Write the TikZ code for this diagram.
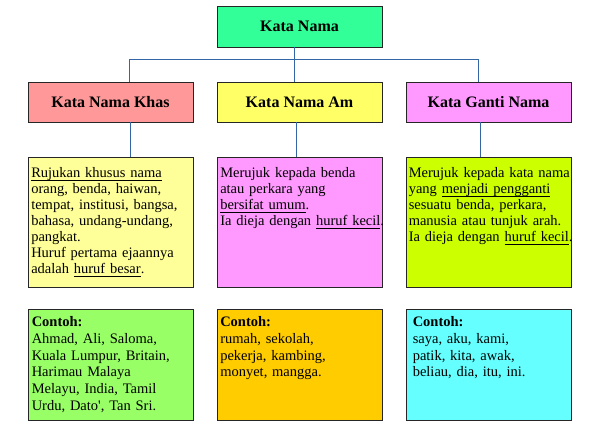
\documentclass[tikz,border=0pt]{standalone}
\usepackage{fontspec}
\setmainfont{Liberation Serif}[Ligatures=TeXOff]
\usetikzlibrary{calc}
\newsavebox\myulbox
\newcommand{\myul}[1]{\leavevmode\sbox\myulbox{#1}\rlap{\rule[-2.8pt]{\wd\myulbox}{0.8pt}}\usebox\myulbox}
\definecolor{cTop}{HTML}{33FF99}
\definecolor{cHa}{HTML}{FF9999}
\definecolor{cHb}{HTML}{FFFF66}
\definecolor{cHc}{HTML}{FF99FF}
\definecolor{cDa}{HTML}{FFFF99}
\definecolor{cDb}{HTML}{FF99FF}
\definecolor{cDc}{HTML}{CCFF00}
\definecolor{cCa}{HTML}{99FF66}
\definecolor{cCb}{HTML}{FFCC00}
\definecolor{cCc}{HTML}{66FFFF}
\definecolor{cLine}{HTML}{3465A4}
\tikzset{
  bx/.style={draw=black!85, line width=0.9pt, inner sep=0pt, minimum width=165pt},
  ttl/.style={bx, minimum height=40pt, font={\fontsize{16}{18}\selectfont\bfseries}},
  dsc/.style={bx, minimum height=130pt},
  exm/.style={bx, minimum height=111pt},
  txtA/.style={anchor=base west, inner sep=0pt, text width=200pt, align=left,
    font={\fontsize{14.5}{16}\selectfont}},
  txtB/.style={anchor=base west, inner sep=0pt, text width=200pt, align=left,
    font={\fontsize{14.5}{16.8}\selectfont}},
  conn/.style={draw=cLine, line width=1pt}
}
\begin{document}
\begin{tikzpicture}[x=1pt,y=-1pt]
\useasboundingbox[fill=white] (0,0) rectangle (589,434);
% boxes
\node[ttl, fill=cTop, minimum height=41pt] (kn) at (299.5,26.5) {Kata Nama};
\node[ttl, fill=cHa] (h1) at (110.5,102) {Kata Nama Khas};
\node[ttl, fill=cHb] (h2) at (299.5,102) {Kata Nama Am};
\node[ttl, fill=cHc] (h3) at (488.5,102) {Kata Ganti Nama};
\node[dsc, fill=cDa] (d1) at (110.5,222) {};
\node[dsc, fill=cDb] (d2) at (299.5,222) {};
\node[dsc, fill=cDc] (d3) at (488.5,222) {};
\node[exm, fill=cCa] (c1) at (110.5,364.5) {};
\node[exm, fill=cCb] (c2) at (299.5,364.5) {};
\node[exm, fill=cCc] (c3) at (488.5,364.5) {};
% connectors
\draw[conn] ([xshift=-5.5pt]kn.south) -- ([xshift=-5.5pt]h2.north);
\draw[conn] ([xshift=18.5pt]h1.north) -- ++(0,-22) -| ([xshift=-10.5pt]h3.north);
\draw[conn] ([xshift=19.5pt]h1.south) -- ([xshift=19.5pt]d1.north);
\draw[conn] ([xshift=-3.5pt]h2.south) -- ([xshift=-3.5pt]d2.north);
\draw[conn] ([xshift=-8.5pt]h3.south) -- ([xshift=-8.5pt]d3.north);
% texts
\node[txtA] (d1t) at ($(d1.north west)+(3.5,21)$) {\myul{Rujukan khusus nama}\\
orang, benda, haiwan,\\
tempat, institusi, bangsa,\\
bahasa, undang-undang,\\
pangkat.\\
Huruf pertama ejaannya\\
adalah \myul{huruf besar}.};
\node[txtA] (d2t) at ($(d2.north west)+(3.5,21)$) {Merujuk kepada benda\\
atau perkara yang\\
\myul{bersifat umum}.\\
Ia dieja dengan \myul{huruf kecil}.};
\node[txtA] (d3t) at ($(d3.north west)+(3,21)$) {Merujuk kepada kata nama\\
yang \myul{menjadi pengganti}\\
sesuatu benda, perkara,\\
manusia atau tunjuk arah.\\
Ia dieja dengan \myul{huruf kecil}.};
\node[txtB] (c1t) at ($(c1.north west)+(4,18)$) {\textbf{Contoh:}\\
Ahmad, Ali, Saloma,\\
Kuala Lumpur, Britain,\\
Harimau Malaya\\
Melayu, India, Tamil\\
Urdu, Dato', Tan Sri.};
\node[txtB] (c2t) at ($(c2.north west)+(3.5,18)$) {\textbf{Contoh:}\\
rumah, sekolah,\\
pekerja, kambing,\\
monyet, mangga.};
\node[txtB] (c3t) at ($(c3.north west)+(7,18)$) {\textbf{Contoh:}\\
saya, aku, kami,\\
patik, kita, awak,\\
beliau, dia, itu, ini.};
\end{tikzpicture}
\end{document}
